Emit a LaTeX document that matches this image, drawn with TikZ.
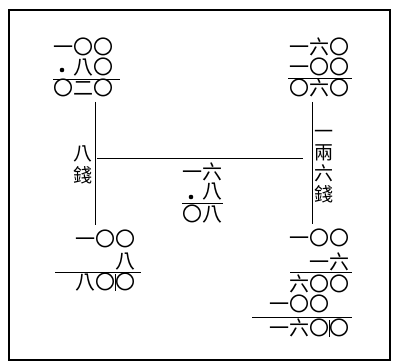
\documentclass[tikz,border=0pt]{standalone}
\usepackage{fontspec}
\newfontfamily\cjk{Noto Sans CJK TC}
\newcommand\vbarx{\makebox[0pt]{\rule[-0.05em]{0.7pt}{0.85em}}}
\begin{document}
\begin{tikzpicture}[x=1pt,y=-1pt,
  num/.style={anchor=east,inner sep=0pt,font=\cjk\fontsize{20}{20}\selectfont,text height=17.6pt,text depth=2.4pt},
  vch/.style={inner sep=0pt,font=\cjk\fontsize{19}{19}\selectfont,text height=16.7pt,text depth=2.3pt},
  rulel/.style={line width=0.8pt},
  frame/.style={line width=1.4pt},
  link/.style={line width=0.8pt},
  dotm/.style={fill=black}]
\useasboundingbox (0,0) rectangle (395,363);
\draw[frame] (9,10) rectangle (390,360);
% top left
\node[num] (tla) at (114,47) {一〇〇};
\node[num] (tlb) at (114,67) {八〇};
\fill[dotm] (62,70) circle (2.3);
\draw[rulel] (53,79) -- (120,79);
\node[num] (tlc) at (114,88) {〇二〇};
% top right
\node[num] (tra) at (350,47) {一六〇};
\node[num] (trb) at (350,67) {一〇〇};
\draw[rulel] (288,78) -- (352,78);
\node[num] (trc) at (350,88) {〇六〇};
% middle
\node[num] (ma) at (223,172) {一六};
\node[num] (mb) at (223,191) {八};
\fill[dotm] (191,197) circle (2.3);
\draw[line width=0.5pt] (182,203) -- (223,203);
\node[num] (mc) at (223,214) {〇八};
% bottom left
\node[num] (bla) at (136,239) {一〇〇};
\node[num] (blb) at (136,261) {八};
\draw[rulel] (55,272) -- (141,272);
\node[num] (blc) at (136,282) {八〇\vbarx〇};
% bottom right
\node[num] (bra) at (350,238) {一〇〇};
\node[num] (brb) at (350,262) {一六};
\draw[rulel] (290,272) -- (352,272);
\node[num] (brc) at (350,284) {六〇〇};
\node[num] (brd) at (330,304) {一〇〇};
\draw[rulel] (252,317) -- (352,317);
\node[num] (bre) at (350,328) {一六〇\vbarx〇};
% vertical labels
\node[vch] (la1) at (83,153) {八};
\node[vch] (la2) at (83,175) {錢};
\node[vch] (ra1) at (324,131) {一};
\node[vch] (ra2) at (324,152) {兩};
\node[vch] (ra3) at (324,173) {六};
\node[vch] (ra4) at (324,194) {錢};
% connectors
\coordinate (lt) at (95,102);
\coordinate (lb) at (95,225);
\coordinate (rt) at (312,102);
\coordinate (rb) at (312,224);
\coordinate (hl) at (97,158);
\coordinate (hr) at (303,158);
\draw[link] (lt) -- (lb);
\draw[link] (rt) -- (rb);
\draw[link] (hl) -- (hr);
\end{tikzpicture}
\end{document}
